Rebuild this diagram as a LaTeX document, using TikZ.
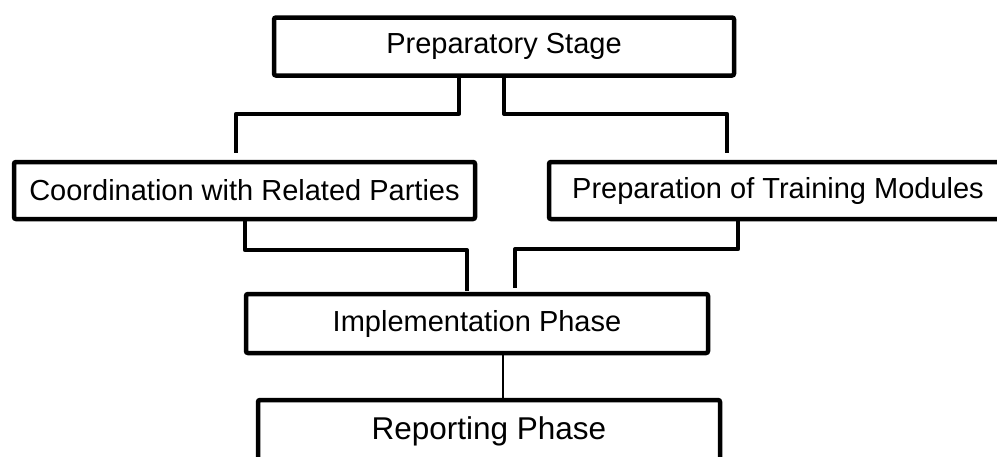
\documentclass[tikz,border=0pt]{standalone}
\usepackage{fontspec}
\setmainfont{Liberation Sans}
\usepackage{tikz}
\usetikzlibrary{positioning, calc}

\begin{document}
\begin{tikzpicture}[
    x=1pt, y=-1pt,
    stagebox/.style={
      draw, rectangle, rounded corners=2pt, line width=4.5pt,
      inner sep=0pt, minimum width=461pt, minimum height=58pt,
      font=\fontsize{29}{34}\selectfont
    },
    link/.style={line width=4pt, line join=round},
    thinlink/.style={line width=2.5pt}
]

  \useasboundingbox (0,0) rectangle (997,456);
  \clip (0,0) rectangle (997,456);

  % Boxes
  \node[stagebox, minimum width=460pt] (prep) at (504,46.5) {Preparatory Stage};
  \node[stagebox, minimum height=57pt] (coord) at (244.5,190.5) {Coordination with Related Parties};
  \node[stagebox, minimum width=458pt, minimum height=57pt] (modules) at (778,190.5) {Preparation of Training Modules};
  \node[stagebox, minimum width=462pt, minimum height=59pt] (impl) at (477,323.5) {Implementation Phase};
  \node[stagebox, minimum width=462pt, minimum height=62pt, font=\fontsize{31.5}{37}\selectfont] (report) at (489,431) {Reporting Phase};

  % Connectors
  \draw[link] ([xshift=-45pt]prep.south) -- ++(0,36) -| ([xshift=-8.5pt,yshift=7pt]coord.north);
  \draw[link] (prep.south) -- ++(0,36) -| ([xshift=-51pt,yshift=7pt]modules.north);
  \draw[link] ([xshift=0.5pt]coord.south) -- ++(0,29) -| ([xshift=-10pt,yshift=1pt]impl.north);
  \draw[link] ([xshift=-40pt]modules.south) -- ++(0,28) -| ([xshift=38pt,yshift=4pt]impl.north);
  \draw[thinlink] ([xshift=26pt]impl.south) -- ([xshift=14pt]report.north);

\end{tikzpicture}
\end{document}
